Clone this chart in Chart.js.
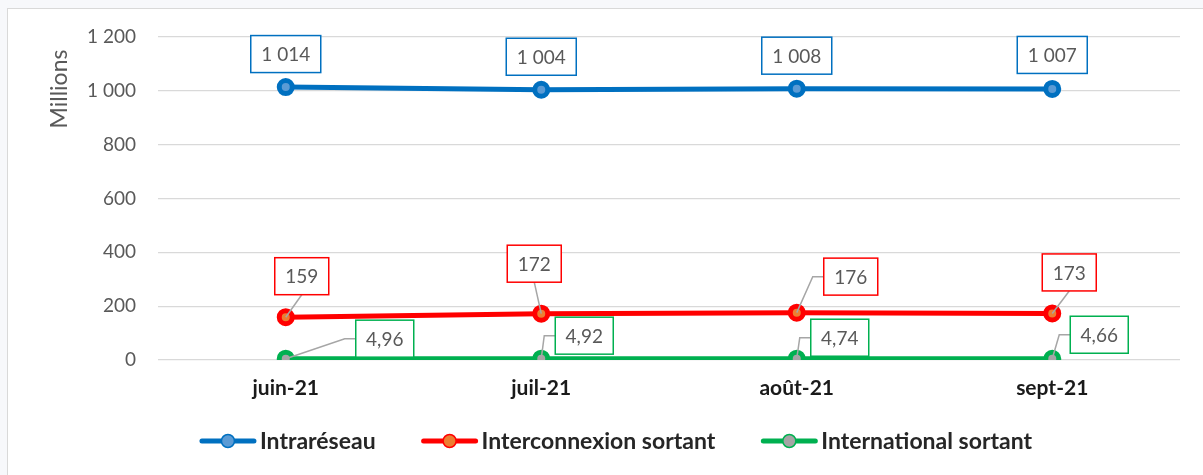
<!DOCTYPE html>
<html lang="fr">
  <head>
    <meta charset="utf-8" />
    <title>Trafic sortant</title>
    <style>
      * {
        margin: 0;
        padding: 0;
      }
      body {
        background: #f7f8fb;
        width: 1203px;
        height: 475px;
        overflow: hidden;
      }
      .chartBox {
        position: absolute;
        left: 7px;
        top: 8px;
        width: 1203px;
        height: 475px;
        background: white;
        border-left: 1px solid #d9d9d9;
        border-top: 1px solid #d9d9d9;
      }
      canvas {
        position: absolute;
        left: -8px;
        top: -9px;
      }
    </style>
  </head>
  <body>
    <div class="chartBox">
      <canvas id="myChart" width="1203" height="475"></canvas>
    </div>

    <script src="https://cdn.jsdelivr.net/npm/chart.js"></script>
    <script>
      // data
      const months = ["juin-21", "juil-21", "août-21", "sept-21"];
      const intrareseau = [1014, 1004, 1008, 1007];
      const interconnexion = [159, 172, 176, 173];
      const international = [4.96, 4.92, 4.74, 4.66];
      const yTicks = [0, 200, 400, 600, 800, 1000, 1200];

      // where each value box sits relative to its point (px)
      const labelOffsets = [
        [[0, -33], [0, -33], [0, -33], [0, -34]],
        [[16, -41], [-7, -50], [54, -36], [17, -41]],
        [[99, -20], [43, -23], [43, -21], [47, -24]],
      ];

      const FONT = "Lato, 'Open Sans', sans-serif";
      const GREY = "#595959";

      const fmt = (v) => {
        if (Number.isInteger(v)) {
          return String(v).replace(/\B(?=(\d{3})+(?!\d))/g, " ");
        }
        return v.toFixed(2).replace(".", ",");
      };

      const data = {
        labels: months,
        datasets: [
          {
            label: "Intraréseau",
            data: intrareseau,
            borderColor: "#0070C0",
            borderWidth: 5,
            pointBackgroundColor: "#5B9BD5",
            pointBorderColor: "#0070C0",
          },
          {
            label: "Interconnexion sortant",
            data: interconnexion,
            borderColor: "#FF0000",
            borderWidth: 5,
            pointBackgroundColor: "#ED7D31",
            pointBorderColor: "#FF0000",
          },
          {
            label: "International sortant",
            data: international,
            borderColor: "#00B050",
            borderWidth: 5,
            pointBackgroundColor: "#A5A5A5",
            pointBorderColor: "#00B050",
          },
        ],
      };

      // value boxes with leader lines, Excel style
      const valueBoxes = {
        id: "valueBoxes",
        afterDatasetsDraw(chart) {
          const { ctx } = chart;
          ctx.save();
          ctx.font = "19px " + FONT;
          ctx.textAlign = "center";
          ctx.textBaseline = "middle";
          chart.data.datasets.forEach((ds, i) => {
            const meta = chart.getDatasetMeta(i);
            meta.data.forEach((pt, j) => {
              const txt = fmt(ds.data[j]);
              const w = Math.round(ctx.measureText(txt).width) + 21;
              const h = 37;
              const cx = pt.x + labelOffsets[i][j][0];
              const cy = pt.y + labelOffsets[i][j][1];
              const left = cx - w / 2;
              const bottom = cy + h / 2;

              // leader line
              if (i !== 0) {
                ctx.strokeStyle = "#A6A6A6";
                ctx.lineWidth = 1.5;
                ctx.beginPath();
                ctx.moveTo(pt.x, pt.y);
                if (left > pt.x + 8) {
                  const ex = Math.max(pt.x, left - 11);
                  ctx.lineTo(ex, cy);
                  ctx.lineTo(left, cy);
                } else {
                  ctx.lineTo(cx, bottom);
                }
                ctx.stroke();
              }

              ctx.fillStyle = "white";
              ctx.fillRect(left, cy - h / 2, w, h);
              ctx.strokeStyle = ds.borderColor;
              ctx.lineWidth = 1.5;
              ctx.strokeRect(left, cy - h / 2, w, h);
              ctx.fillStyle = GREY;
              ctx.fillText(txt, cx, cy + 1);
            });
          });
          ctx.restore();
        },
      };

      // rotated axis title + legend under the chart
      const extras = {
        id: "extras",
        afterDraw(chart) {
          const { ctx } = chart;
          ctx.save();
          ctx.translate(60, 89);
          ctx.rotate(-Math.PI / 2);
          ctx.font = "23px " + FONT;
          ctx.fillStyle = GREY;
          ctx.textAlign = "center";
          ctx.textBaseline = "middle";
          ctx.fillText("Millions", 0, 0);
          ctx.restore();

          ctx.save();
          ctx.font = "bold 23px " + FONT;
          ctx.textBaseline = "middle";
          const markW = 56;
          const gap = 4;
          const spacing = 46;
          const items = chart.data.datasets.map((ds) => ({
            ds,
            w: markW + gap + ctx.measureText(ds.label).width,
          }));
          const total =
            items.reduce((s, it) => s + it.w, 0) + spacing * (items.length - 1);
          let x = 616 - total / 2;
          const y = 441;
          items.forEach(({ ds, w }) => {
            ctx.strokeStyle = ds.borderColor;
            ctx.lineWidth = 5;
            ctx.lineCap = "round";
            ctx.beginPath();
            ctx.moveTo(x + 2, y);
            ctx.lineTo(x + markW - 2, y);
            ctx.stroke();
            ctx.beginPath();
            ctx.arc(x + markW / 2, y, 6.5, 0, Math.PI * 2);
            ctx.fillStyle = ds.pointBackgroundColor;
            ctx.fill();
            ctx.lineWidth = 1.5;
            ctx.strokeStyle = ds.pointBorderColor;
            ctx.stroke();
            ctx.fillStyle = "#262626";
            ctx.fillText(ds.label, x + markW + gap, y + 1);
            x += w + spacing;
          });
          ctx.restore();
        },
      };

      const config = {
        type: "line",
        data: data,
        options: {
          responsive: false,
          animation: false,
          layout: {
            padding: { left: 0, right: 23, top: 37, bottom: 60 },
          },
          elements: {
            line: { tension: 0, borderCapStyle: "round" },
            point: { radius: 6.5, borderWidth: 1.5, hoverRadius: 6.5 },
          },
          plugins: {
            legend: { display: false },
            tooltip: { enabled: false },
          },
          scales: {
            x: {
              offset: true,
              grid: { display: false, drawTicks: false },
              border: { display: false },
              ticks: {
                padding: 16,
                color: "#1a1a1a",
                font: { family: FONT, size: 21, weight: "bold" },
              },
              afterFit(scale) {
                scale.height = 55;
              },
            },
            y: {
              min: 0,
              max: 1200,
              afterBuildTicks(scale) {
                scale.ticks = yTicks.map((v) => ({ value: v }));
              },
              grid: { color: "#D9D9D9", lineWidth: 1.3, drawTicks: false },
              border: { display: false },
              ticks: {
                padding: 22,
                color: GREY,
                font: { family: FONT, size: 19 },
                callback: (v) => fmt(v),
              },
              afterFit(scale) {
                scale.width = 158;
              },
            },
          },
        },
        plugins: [valueBoxes, extras],
      };

      const myChart = new Chart(document.getElementById("myChart"), config);
    </script>
  </body>
</html>
